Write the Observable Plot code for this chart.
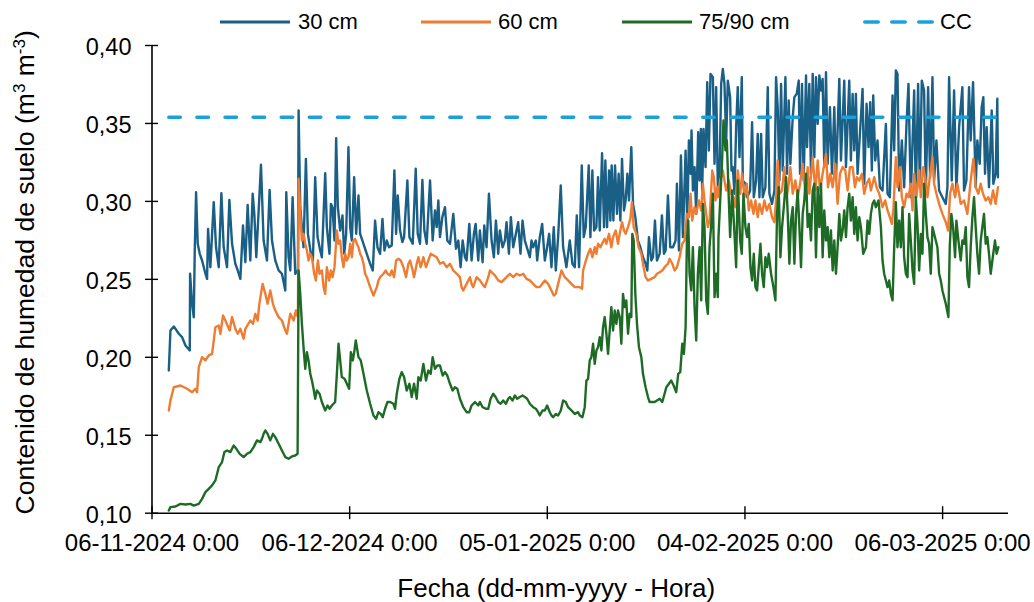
<!DOCTYPE html>
<html>
<head>
<meta charset="utf-8">
<script src="https://cdn.jsdelivr.net/npm/d3@7"></script>
<script src="https://cdn.jsdelivr.net/npm/@observablehq/plot@0.6"></script>
<style>
  html, body { margin: 0; padding: 0; background: #ffffff; }
  body { width: 1034px; height: 602px; overflow: hidden; font-family: "Liberation Sans", Arial, sans-serif; }
  #legend { position: relative; width: 1034px; height: 44px; }
  .item { position: absolute; top: 0; height: 44px; display: flex; align-items: center; font-size: 22px; color: #000; }
  .item svg { display: block; }
  #chart svg { overflow: visible; }
</style>
</head>
<body>
<div id="legend"></div>
<div id="chart"></div>
<script>
// ---------------- DATA ----------------
const inicio = "2024-11-06T00:00:00Z";          // day 0 of the series
const finEje = "2025-03-16T00:00:00Z";          // end of the date axis
const seriesNombres = ["30 cm", "60 cm", "75/90 cm", "CC"];
const seriesColores = ["#1a5f86", "#ee7d33", "#1e6b25", "#1aa1db"];
const fechasTicks = ["2024-11-06", "2024-12-06", "2025-01-05", "2025-02-04", "2025-03-06"];
const etiquetasX = ["06-11-2024 0:00", "06-12-2024 0:00", "05-01-2025 0:00", "04-02-2025 0:00", "06-03-2025 0:00"];
const valoresY = [0.10, 0.15, 0.20, 0.25, 0.30, 0.35, 0.40];
const etiquetasY = ["0,10", "0,15", "0,20", "0,25", "0,30", "0,35", "0,40"];
const capacidadCampo = 0.354;                    // CC (m3 m-3)
const tituloX = "Fecha (dd-mm-yyyy - Hora)";
const tituloY = "Contenido de humedad de suelo (m3 m-3)";

// [days since start, soil moisture m3 m-3]
const humedad30 = [
[2.55,0.1915],[2.80,0.2172],[3.31,0.2198],[4.07,0.2151],[4.57,0.2129],[5.08,0.2076],[5.73,0.2044],[5.78,0.2536],[6.09,0.2343],[6.34,0.2257],[6.49,0.2685],[6.69,0.3059],[6.94,0.2728],[7.25,0.2664],[7.60,0.2621],[8.11,0.2536],[8.36,0.2503],[8.51,0.2824],[8.86,0.2578],[9.37,0.2995],[9.72,0.2706],[10.13,0.2578],[10.53,0.3053],[10.88,0.2706],[11.39,0.2578],[11.74,0.3010],[12.15,0.2728],[12.65,0.2600],[13.01,0.2557],[13.41,0.2503],[13.81,0.2845],[14.17,0.2610],[14.52,0.2978],[14.92,0.2621],[15.28,0.3049],[15.53,0.2920],[15.83,0.2642],[16.54,0.3235],[16.94,0.2749],[17.45,0.2621],[17.85,0.3074],[18.21,0.2749],[18.71,0.2621],[19.22,0.2557],[19.72,0.2536],[20.23,0.2429],[20.38,0.3059],[20.73,0.2642],[20.99,0.2557],[21.34,0.3027],[21.74,0.2535],[22.15,0.2560],
[22.25,0.3583],[22.50,0.2963],[22.75,0.2835],[23.00,0.2706],[23.36,0.3273],[23.66,0.2792],[24.12,0.2664],[24.42,0.2621],[24.77,0.3155],[25.13,0.2771],[25.53,0.2685],[25.78,0.2642],[26.29,0.3181],[26.54,0.2835],[26.94,0.2664],[27.15,0.2984],[27.40,0.2963],[27.70,0.2749],[27.95,0.3406],[28.21,0.2963],[28.56,0.2813],[28.91,0.2910],[29.17,0.2664],[29.47,0.2792],[29.82,0.3348],[30.08,0.2835],[30.33,0.2749],[30.68,0.3155],[30.99,0.2792],[31.34,0.3038],[31.59,0.2792],[32.10,0.2728],[32.60,0.2664],[33.11,0.2600],[33.51,0.2557],[33.86,0.2877],[34.22,0.2706],[34.62,0.2664],[34.98,0.2888],[35.28,0.2685],[35.63,0.2749],[35.98,0.2706],[36.39,0.2717],[36.79,0.3198],[37.05,0.2792],[37.30,0.3038],[37.65,0.2813],[38.00,0.2739],[38.26,0.2771],[38.76,0.3134],[39.07,0.2771],[39.57,0.2728],[40.03,0.3209],[40.33,0.2792],[40.68,0.2728],[41.04,0.3138],[41.34,0.2813],[41.69,0.2728],[42.20,0.3134],
[42.60,0.2749],[42.95,0.2942],[43.21,0.2835],[43.46,0.3006],[43.71,0.2771],[44.07,0.2899],[44.47,0.2963],[44.82,0.2749],[45.23,0.2728],[45.73,0.2920],[46.14,0.2696],[46.49,0.2749],[46.84,0.2578],[47.15,0.2749],[47.50,0.2642],[47.75,0.2621],[48.16,0.2856],[48.51,0.2621],[48.86,0.2792],[49.12,0.2856],[49.52,0.2621],[49.77,0.2813],[50.18,0.2610],[50.43,0.2845],[50.78,0.2706],[51.14,0.3049],[51.54,0.2749],[51.89,0.2642],[52.20,0.2877],[52.55,0.2664],[52.80,0.2813],[53.21,0.2706],[53.56,0.2749],[53.81,0.2867],[54.17,0.2664],[54.47,0.2899],[54.82,0.2706],[55.23,0.2792],[55.58,0.2867],[55.93,0.2664],[56.24,0.2877],[56.59,0.2749],[57.35,0.2642],[57.60,0.2749],[57.85,0.2706],[58.26,0.2749],[58.46,0.2621],[58.86,0.2771],[59.22,0.2856],[59.62,0.2621],[59.97,0.2706],[60.28,0.2792],[60.63,0.2578],[60.98,0.2835],[61.29,0.2557],[61.64,0.2771],[62.04,0.3102],[62.40,0.2706],[62.90,0.2578],[63.41,0.2749],[63.81,0.2600],[64.17,0.2578],[64.47,0.2910],[64.82,0.2578],
[65.23,0.3230],[65.53,0.2771],[65.83,0.2835],[66.29,0.3230],[66.54,0.2771],[66.84,0.3198],[67.10,0.2813],[67.45,0.2835],[67.70,0.3155],[67.96,0.2813],[68.31,0.3309],[68.61,0.2835],[68.81,0.3262],[69.07,0.2835],[69.37,0.3198],[69.57,0.2877],[69.77,0.3230],[70.03,0.2877],[70.28,0.3230],[70.58,0.2920],[70.83,0.3177],[71.09,0.2877],[71.34,0.3273],[71.64,0.2942],[71.89,0.3006],[72.15,0.3177],[72.40,0.3006],[72.75,0.3348],[73.01,0.2984],[73.36,0.2899],[73.76,0.2749],[74.12,0.2706],[74.52,0.2642],[74.92,0.2600],[75.18,0.2557],[75.43,0.2771],[75.78,0.2621],[76.04,0.2642],[76.34,0.2877],[76.64,0.2621],[77.05,0.2664],[77.40,0.2910],[77.70,0.2664],[77.96,0.2685],[78.31,0.3038],[78.66,0.2706],[79.07,0.2706],[79.47,0.2749],[79.67,0.3113],[79.98,0.2685],[80.28,0.3294],[80.58,0.2771],[80.99,0.3326],[81.24,0.2856],[81.49,0.3391],[81.74,0.3177],[81.89,0.3455],[82.10,0.3070],[82.35,0.3220],[82.60,0.2920],[82.90,0.3444],[83.11,0.3134],[83.31,0.3465],[83.51,0.3070],[83.71,0.3465],[84.02,0.3220],[84.27,0.3765],[84.52,0.3326],[84.77,0.3818],[85.13,0.3797],[85.38,0.3241],[85.63,0.3733],[85.88,0.3100],
[86.14,0.3177],[86.39,0.3754],[86.64,0.3850],[86.89,0.3754],[87.15,0.3391],[87.40,0.3775],[87.75,0.3669],[87.95,0.3198],[88.16,0.3220],[88.41,0.3049],[88.66,0.3476],[88.91,0.3733],[89.17,0.3284],[89.52,0.3797],[89.67,0.3134],[90.07,0.3113],[90.33,0.3027],[90.58,0.3049],[90.78,0.3070],[91.08,0.3508],[91.34,0.3027],[91.69,0.3134],[91.94,0.3433],[92.20,0.3027],[92.45,0.3433],[92.70,0.3027],[93.10,0.3091],[93.46,0.3733],[93.71,0.3049],[94.11,0.2984],[94.47,0.3070],[94.72,0.3797],[94.97,0.3604],[95.23,0.3134],[95.48,0.3754],[95.73,0.3198],[96.14,0.3797],[96.39,0.3177],[96.64,0.3647],[96.89,0.3241],[97.25,0.3540],[97.50,0.3669],[97.85,0.3690],[98.16,0.3775],[98.36,0.3177],[98.66,0.3754],[98.91,0.3134],[99.27,0.3808],[99.42,0.3348],[99.77,0.3754],[100.02,0.3177],[100.28,0.3818],[100.53,0.3284],[100.78,0.3797],[101.04,0.3497],[101.29,0.3808],[101.54,0.3711],[101.79,0.3786],[102.04,0.3220],[102.30,0.3829],[102.55,0.3241],[102.90,0.3604],[103.21,0.3177],[103.56,0.3604],[103.81,0.3134],[104.32,0.3786],[104.57,0.3262],[105.07,0.3775],[105.33,0.3220],[105.83,0.3775],[106.08,0.3262],[106.34,0.3690],[106.59,0.3327],[106.84,0.3690],[107.09,0.3177],
[107.85,0.3722],[108.10,0.3113],[108.46,0.3626],[108.76,0.3348],[109.01,0.3636],[109.26,0.3198],[109.47,0.3679],[109.77,0.3262],[110.12,0.3391],[110.48,0.3091],[110.88,0.3070],[111.39,0.3497],[111.64,0.3049],[111.99,0.3027],[112.40,0.3679],[112.65,0.3327],[112.90,0.3840],[113.15,0.3818],[113.41,0.3070],[113.81,0.3391],[114.16,0.3091],[114.52,0.3497],[114.82,0.3754],[115.17,0.3027],[115.68,0.3711],[115.93,0.3027],[116.28,0.3754],[116.54,0.3091],[116.84,0.3775],[117.19,0.3711],[117.45,0.3049],[117.80,0.3733],[118.10,0.3155],[118.46,0.3797],[118.71,0.3134],[119.06,0.3391],[119.47,0.3070],[119.97,0.3027],[120.48,0.2984],[120.73,0.3091],[120.98,0.3797],[121.39,0.3134],[121.74,0.3711],[122.09,0.3070],[122.50,0.3476],[123.00,0.3733],[123.25,0.3070],[123.61,0.3134],[124.01,0.3733],[124.26,0.3391],[124.62,0.3765],[125.02,0.3091],[125.27,0.3391],[125.63,0.3241],[125.93,0.3604],[126.18,0.3669],[126.44,0.3177],[126.69,0.3476],[127.04,0.3091],[127.45,0.3583],[127.70,0.3113],[128.05,0.3177],[128.30,0.3658],[128.40,0.3155]
];

const humedad60 = [
[2.55,0.1659],[2.80,0.1723],[3.31,0.1808],[4.32,0.1819],[5.33,0.1798],[6.09,0.1776],[6.59,0.1798],[6.84,0.1776],[7.10,0.1937],[7.60,0.2001],[8.11,0.1980],[8.61,0.2012],[9.12,0.2022],[9.62,0.2193],[10.13,0.2204],[10.38,0.2151],[10.78,0.2268],[11.14,0.2236],[11.79,0.2172],[12.15,0.2258],[12.65,0.2183],[13.01,0.2151],[13.41,0.2183],[13.91,0.2119],[14.17,0.2183],[14.92,0.2236],[15.33,0.2215],[15.68,0.2279],[16.04,0.2236],[16.29,0.2343],[16.79,0.2471],[17.20,0.2407],[17.55,0.2343],[17.95,0.2429],[18.36,0.2343],[18.71,0.2300],[19.22,0.2258],[19.72,0.2236],[20.23,0.2172],[20.48,0.2151],[20.99,0.2279],[21.49,0.2236],[21.84,0.2300],[22.15,0.2258],
[22.25,0.3145],[22.50,0.2920],[22.75,0.2749],[23.00,0.2792],[23.26,0.2728],[23.51,0.2685],[23.76,0.2621],[24.02,0.2664],[24.27,0.2642],[24.62,0.2536],[24.87,0.2493],[25.18,0.2621],[25.43,0.2536],[25.78,0.2557],[26.04,0.2450],[26.29,0.2407],[26.54,0.2578],[26.89,0.2493],[27.15,0.2557],[27.40,0.2514],[27.70,0.2578],[28.06,0.2813],[28.31,0.2728],[28.56,0.2749],[28.81,0.2642],[29.07,0.2578],[29.32,0.2664],[29.57,0.2621],[29.82,0.2642],[30.08,0.2728],[30.33,0.2642],[30.58,0.2749],[30.83,0.2760],[31.09,0.2728],[31.34,0.2706],[31.59,0.2664],[31.84,0.2642],[32.10,0.2600],[32.35,0.2536],[32.60,0.2514],[33.11,0.2450],[33.61,0.2396],[34.12,0.2450],[34.37,0.2493],[34.62,0.2514],[35.13,0.2536],[35.48,0.2557],[35.73,0.2536],[36.14,0.2525],[36.39,0.2557],[36.74,0.2514],[37.05,0.2621],[37.40,0.2632],[37.75,0.2621],[38.16,0.2578],[38.56,0.2514],[38.91,0.2600],[39.17,0.2621],[39.57,0.2557],[39.77,0.2514],[40.18,0.2600],[40.43,0.2642],[40.78,0.2578],[41.19,0.2642],[41.59,0.2578],[41.94,0.2621],[42.30,0.2664],
[43.21,0.2642],[43.71,0.2600],[44.22,0.2610],[44.72,0.2578],[45.23,0.2600],[45.73,0.2557],[46.24,0.2536],[46.74,0.2514],[46.99,0.2450],[47.25,0.2429],[47.50,0.2450],[47.75,0.2471],[48.26,0.2514],[48.51,0.2471],[48.76,0.2450],[49.27,0.2514],[49.77,0.2493],[50.28,0.2461],[50.53,0.2450],[51.04,0.2514],[51.29,0.2557],[51.79,0.2536],[52.05,0.2525],[52.55,0.2493],[53.06,0.2482],[53.81,0.2514],[54.32,0.2536],[54.82,0.2514],[55.33,0.2536],[55.83,0.2525],[56.34,0.2536],[56.84,0.2503],[57.35,0.2493],[57.85,0.2471],[58.36,0.2450],[58.86,0.2450],[59.62,0.2493],[60.13,0.2471],[60.63,0.2429],[60.98,0.2396],[61.29,0.2407],[61.64,0.2471],[62.15,0.2557],[62.65,0.2514],[63.16,0.2493],[63.66,0.2471],[64.17,0.2450],
[64.93,0.2450],[65.28,0.2439],[65.43,0.2557],[65.78,0.2610],[66.19,0.2664],[66.54,0.2696],[66.84,0.2642],[67.20,0.2706],[67.45,0.2664],[67.70,0.2728],[68.06,0.2706],[68.31,0.2728],[68.71,0.2760],[68.97,0.2728],[69.37,0.2792],[69.72,0.2706],[69.98,0.2771],[70.38,0.2813],[70.73,0.2728],[70.99,0.2792],[71.34,0.2867],[71.64,0.2813],[71.89,0.2792],[72.25,0.2835],[72.60,0.2888],[72.85,0.2995],[73.11,0.2835],[73.51,0.2792],[73.86,0.2706],[74.27,0.2664],[74.62,0.2578],[74.92,0.2514],[75.28,0.2493],[75.78,0.2503],[76.29,0.2514],[76.64,0.2536],[77.05,0.2546],[77.45,0.2557],[77.80,0.2578],[78.31,0.2600],[78.56,0.2632],[78.97,0.2600],[79.32,0.2557],[79.67,0.2578],[80.08,0.2642],[80.48,0.2728],[80.83,0.2749],[81.19,0.2920],[81.49,0.2899],[81.74,0.3049],[81.99,0.2877],[82.35,0.2963],[82.60,0.2920],[83.01,0.3006],[83.36,0.2942],[83.61,0.3113],[83.86,0.3006],[84.12,0.2920],[84.37,0.2835],[84.62,0.2877],[85.03,0.3198],[85.28,0.3155],[85.53,0.3006],[85.78,0.3091],
[85.88,0.3027],[86.24,0.3134],[86.64,0.3198],[86.89,0.3134],[87.15,0.3070],[87.55,0.3134],[87.90,0.3049],[88.26,0.3027],[88.56,0.2963],[88.91,0.3198],[89.27,0.3049],[89.57,0.3177],[89.92,0.3027],[90.28,0.3113],[90.58,0.2942],[90.93,0.3006],[91.29,0.2920],[91.59,0.3006],[91.94,0.2899],[92.20,0.2984],[92.60,0.2920],[92.95,0.3006],[93.31,0.2942],[93.71,0.2984],[94.11,0.2899],[94.47,0.2867],[94.72,0.3006],[94.97,0.3262],[95.23,0.3049],[95.63,0.3070],[95.98,0.3220],[96.34,0.3027],[96.64,0.3113],[96.89,0.3220],[97.25,0.3049],[97.65,0.3134],[98.00,0.3027],[98.36,0.3113],[98.76,0.3241],[99.17,0.3049],[99.52,0.3220],[99.77,0.3049],[100.28,0.3284],[100.68,0.3070],[101.04,0.3262],[101.39,0.3070],[101.79,0.3177],[102.30,0.3305],[102.60,0.3091],[102.95,0.3177],[103.31,0.3091],[103.71,0.3241],[104.06,0.2984],[104.42,0.3177],[104.82,0.3220],[105.23,0.3198],[105.58,0.3070],[105.93,0.3220],[106.34,0.3220],[106.69,0.3091],[106.99,0.3155],
[107.35,0.3134],[107.75,0.3177],[108.10,0.3049],[108.46,0.3113],[108.86,0.3145],[109.11,0.3070],[109.62,0.3155],[109.97,0.3091],[110.38,0.3049],[110.88,0.2963],[111.28,0.3006],[111.64,0.2942],[111.99,0.2899],[112.30,0.2856],[112.55,0.2963],[112.90,0.3284],[113.15,0.3091],[113.51,0.3220],[113.81,0.3027],[114.16,0.2963],[114.52,0.3049],[114.82,0.3027],[115.17,0.3113],[115.43,0.2942],[115.68,0.3177],[116.03,0.3027],[116.44,0.3198],[116.69,0.3027],[117.04,0.3220],[117.35,0.3155],[117.70,0.3027],[118.05,0.3155],[118.46,0.3284],[118.71,0.3113],[119.06,0.3049],[119.47,0.2984],[119.97,0.2920],[120.48,0.2867],[120.83,0.2813],[121.13,0.3049],[121.49,0.3113],[121.89,0.3027],[122.24,0.3113],[122.75,0.2984],[123.25,0.3006],[123.76,0.2920],[124.26,0.3134],[124.67,0.3273],[125.02,0.3091],[125.43,0.3049],[125.78,0.3113],[126.13,0.3049],[126.54,0.3006],[126.94,0.3027],[127.30,0.2984],[127.65,0.3070],[128.05,0.2984],[128.40,0.3091]
];

const humedad7590 = [
[2.55,0.1017],[2.80,0.1039],[3.56,0.1043],[4.32,0.1060],[5.08,0.1056],[5.83,0.1060],[6.34,0.1049],[7.10,0.1060],[7.60,0.1092],[8.11,0.1135],[8.61,0.1156],[9.12,0.1178],[9.62,0.1210],[10.13,0.1295],[10.63,0.1328],[10.99,0.1392],[11.39,0.1402],[11.89,0.1392],[12.40,0.1434],[12.80,0.1413],[13.31,0.1381],[13.91,0.1360],[14.42,0.1381],[14.92,0.1392],[15.43,0.1424],[15.93,0.1467],[16.44,0.1456],[16.69,0.1477],[16.94,0.1509],[17.20,0.1531],[17.55,0.1509],[17.95,0.1467],[18.36,0.1509],[18.71,0.1488],[19.22,0.1445],[19.72,0.1402],[20.23,0.1360],[20.73,0.1349],[21.24,0.1364],[21.74,0.1370],[22.10,0.1381],
[22.25,0.2557],[22.50,0.2407],[22.75,0.2215],[23.00,0.2065],[23.26,0.1926],[23.51,0.2033],[23.76,0.1980],[24.02,0.1894],[24.27,0.1851],[24.52,0.1798],[24.77,0.1734],[25.03,0.1787],[25.43,0.1766],[25.78,0.1713],[26.29,0.1659],[26.64,0.1691],[26.94,0.1670],[27.30,0.1691],[27.80,0.1713],[28.06,0.1894],[28.31,0.2087],[28.56,0.1980],[28.81,0.1873],[29.22,0.1862],[29.57,0.1830],[29.92,0.1798],[30.18,0.2033],[30.48,0.1980],[30.73,0.2044],[30.93,0.2108],[31.34,0.2001],[31.69,0.1980],[32.10,0.1894],[32.60,0.1787],[33.11,0.1702],[33.61,0.1627],[34.01,0.1606],[34.37,0.1648],[34.72,0.1637],[35.02,0.1616],[35.38,0.1670],[35.73,0.1713],[36.14,0.1713],[36.64,0.1702],[36.89,0.1670],[37.15,0.1766],[37.55,0.1862],[37.90,0.1905],[38.26,0.1873],[38.66,0.1787],[39.07,0.1830],[39.42,0.1745],[39.77,0.1830],[40.18,0.1734],[40.43,0.1873],[40.78,0.1851],[41.19,0.1958],[41.59,0.1851],[41.94,0.1915],[42.30,0.1894],[42.60,0.2001],[42.95,0.1926],[43.31,0.1947],[43.71,0.1947],
[44.12,0.1883],[44.47,0.1905],[44.82,0.1883],[45.23,0.1830],[45.63,0.1787],[45.98,0.1808],[46.34,0.1798],[46.74,0.1734],[47.25,0.1680],[47.75,0.1648],[48.16,0.1648],[48.51,0.1691],[49.02,0.1713],[49.52,0.1691],[49.77,0.1713],[50.18,0.1680],[50.68,0.1670],[51.04,0.1670],[51.39,0.1734],[51.79,0.1766],[52.15,0.1745],[52.55,0.1713],[52.90,0.1702],[53.31,0.1723],[53.71,0.1702],[54.07,0.1734],[54.32,0.1745],[54.72,0.1723],[55.08,0.1755],[55.43,0.1734],[55.83,0.1745],[56.24,0.1755],[56.59,0.1745],[56.94,0.1734],[57.35,0.1702],[57.85,0.1680],[58.26,0.1670],[58.61,0.1648],[58.86,0.1627],[59.27,0.1659],[59.62,0.1659],[59.97,0.1691],[60.38,0.1648],[60.63,0.1627],[60.88,0.1616],[61.29,0.1637],[61.64,0.1627],[62.05,0.1659],[62.40,0.1723],[62.80,0.1713],[63.16,0.1680],[63.66,0.1659],[64.17,0.1637],[64.67,0.1648],
[64.93,0.1627],[65.33,0.1616],[65.68,0.1680],[65.93,0.1851],[66.19,0.1862],[66.44,0.1980],[66.69,0.2001],[66.95,0.2087],[67.20,0.1958],[67.45,0.2044],[67.70,0.2065],[67.96,0.2129],[68.21,0.2044],[68.46,0.2193],[68.71,0.2258],[68.97,0.2151],[69.22,0.2022],[69.47,0.2172],[69.72,0.2322],[69.98,0.2172],[70.23,0.2300],[70.48,0.2215],[70.73,0.2300],[70.99,0.2258],[71.24,0.2087],[71.49,0.2407],[71.74,0.2322],[71.99,0.2365],[72.25,0.2151],[72.50,0.2279],[72.75,0.2258],[72.90,0.2792],[73.11,0.2749],[73.36,0.2407],[73.61,0.2215],[73.91,0.2065],[74.27,0.2001],[74.52,0.1894],[74.92,0.1808],[75.28,0.1745],[75.53,0.1713],[75.94,0.1713],[76.29,0.1713],[76.64,0.1723],[77.05,0.1734],[77.45,0.1713],[77.80,0.1766],[78.06,0.1808],[78.46,0.1830],[78.81,0.1851],[79.17,0.1819],[79.57,0.1776],[79.87,0.1894],[80.18,0.1905],[80.48,0.2087],[80.73,0.2022],[80.99,0.2193],[81.19,0.2749],[81.39,0.2877],[81.59,0.2536],[81.84,0.2429],[82.10,0.2706],[82.35,0.2322],[82.60,0.2108],[82.85,0.2536],[83.11,0.2706],[83.36,0.2365],[83.61,0.2984],[83.86,0.2835],[84.12,0.2365],[84.37,0.2279],[84.62,0.2706],[84.87,0.2845],[85.13,0.3049],[85.38,0.2386],[85.63,0.2536],[85.88,0.2386],
[85.98,0.2771],[86.24,0.3006],[86.49,0.3220],[86.74,0.3519],[87.04,0.3327],[87.25,0.3391],[87.50,0.3070],[87.75,0.2771],[88.05,0.3070],[88.41,0.2792],[88.66,0.2578],[88.91,0.3134],[89.27,0.2749],[89.52,0.2664],[89.77,0.3049],[90.07,0.2835],[90.33,0.2771],[90.58,0.2856],[90.83,0.2578],[91.08,0.2493],[91.34,0.2664],[91.59,0.2450],[91.84,0.2429],[92.09,0.2578],[92.35,0.2728],[92.60,0.2536],[92.85,0.2450],[93.10,0.2642],[93.36,0.2578],[93.61,0.2664],[93.96,0.2536],[94.32,0.2450],[94.62,0.2365],[94.87,0.2920],[95.12,0.3091],[95.38,0.2642],[95.63,0.2835],[95.98,0.3006],[96.24,0.3155],[96.49,0.2920],[96.74,0.2600],[96.99,0.2877],[97.25,0.2963],[97.50,0.2600],[97.75,0.2920],[98.00,0.3070],[98.26,0.2835],[98.51,0.2578],[98.76,0.2920],[99.01,0.3006],[99.27,0.3177],[99.52,0.2835],[99.77,0.2920],[100.02,0.2749],[100.28,0.3070],[100.53,0.3113],[100.78,0.2642],[101.04,0.3091],[101.29,0.2835],[101.54,0.3113],[101.79,0.2642],[102.04,0.2942],[102.30,0.2749],[102.55,0.2835],[102.80,0.2642],[103.05,0.2813],[103.31,0.2557],[103.56,0.2749],[103.81,0.2536],[104.06,0.2706],[104.32,0.2920],[104.57,0.2749],[104.82,0.2813],[105.07,0.2942],[105.33,0.2771],[105.58,0.2963],[105.83,0.3049],[106.08,0.2877],[106.34,0.3027],[106.59,0.2792],[106.84,0.2963],[107.09,0.2749],
[107.35,0.2899],[107.60,0.2835],[107.95,0.2664],[108.36,0.2706],[108.61,0.2877],[108.86,0.2792],[109.11,0.2920],[109.37,0.2984],[109.62,0.3006],[109.87,0.2963],[110.27,0.3006],[110.63,0.2835],[110.88,0.2621],[111.13,0.2536],[111.39,0.2493],[111.64,0.2450],[111.89,0.2493],[112.14,0.2407],[112.40,0.2365],[112.65,0.2706],[112.90,0.2995],[113.15,0.2706],[113.41,0.2877],[113.66,0.2706],[113.91,0.2963],[114.16,0.2642],[114.42,0.2536],[114.67,0.2514],[114.92,0.2920],[115.17,0.2749],[115.43,0.2557],[115.68,0.2471],[115.93,0.3027],[116.18,0.2856],[116.44,0.2557],[116.69,0.2792],[116.94,0.2664],[117.19,0.3113],[117.45,0.2920],[117.70,0.2771],[117.95,0.2728],[118.20,0.2536],[118.46,0.2835],[118.71,0.2792],[118.96,0.2749],[119.21,0.2706],[119.47,0.2536],[119.72,0.2493],[119.97,0.2429],[120.48,0.2343],[120.88,0.2258],[121.08,0.2706],[121.33,0.2920],[121.59,0.2835],[121.89,0.2642],[122.09,0.2877],[122.40,0.2749],[122.75,0.2621],[123.00,0.2749],[123.25,0.2728],[123.51,0.2835],[123.76,0.2514],[124.01,0.2450],[124.26,0.2706],[124.52,0.2899],[124.77,0.3027],[125.02,0.2835],[125.27,0.2664],[125.53,0.2536],[125.78,0.2749],[126.03,0.2835],[126.28,0.2920],[126.54,0.2728],[126.79,0.2771],[127.04,0.2664],[127.30,0.2536],[127.55,0.2621],[127.95,0.2749],[128.20,0.2664],[128.46,0.2706]
];
const diasCC = [2.55, 128.4];

// ---------------- BUILD ----------------
const t0 = Date.parse(inicio);
const aFecha = d => new Date(t0 + d * 864e5);
const conv = arr => arr.map(([d, v]) => ({fecha: aFecha(d), valor: v}));
const d30 = conv(humedad30), d60 = conv(humedad60), d7590 = conv(humedad7590);
const dCC = diasCC.map(d => ({fecha: aFecha(d), valor: capacidadCampo}));
const ticksX = fechasTicks.map(s => new Date(s + "T00:00:00Z"));
const dom0 = new Date(inicio), dom1 = new Date(finEje);

// Legend (HTML, above the SVG)
const legendPos = [[220, 298], [421, 498], [622, 699], [863, 940]];
const leg = d3.select("#legend");
seriesNombres.forEach((n, i) => {
  const it = leg.append("div").attr("class", "item").style("left", legendPos[i][0] + "px");
  const s = it.append("svg").attr("width", 72).attr("height", 8);
  const ln = s.append("line").attr("x1", i === 3 ? 1.75 : 0).attr("x2", 70).attr("y1", 4).attr("y2", 4)
    .attr("stroke", seriesColores[i]).attr("stroke-width", i === 3 ? 3.5 : 3);
  if (i === 3) ln.attr("stroke-dasharray", "13.5,13.5").attr("stroke-linecap", "round");
  leg.append("div").attr("class", "item").style("left", legendPos[i][1] + "px").text(n);
});

const fmtX = d => etiquetasX[ticksX.findIndex(t => +t === +d)];
const fmtY = d => etiquetasY[valoresY.findIndex(t => Math.abs(t - d) < 1e-9)];

const chart = Plot.plot({
  width: 1034,
  height: 558,
  marginLeft: 151.5,
  marginRight: 26,
  marginTop: 1,
  marginBottom: 89.3,
  style: {fontFamily: '"Liberation Sans", Arial, sans-serif', background: "#ffffff", overflow: "visible", color: "#000"},
  x: {type: "utc", domain: [dom0, dom1]},
  y: {domain: [0.10, 0.40]},
  marks: [
    Plot.line(d30, {x: "fecha", y: "valor", stroke: seriesColores[0], strokeWidth: 2.4}),
    Plot.line(d60, {x: "fecha", y: "valor", stroke: seriesColores[1], strokeWidth: 2.4}),
    Plot.line(d7590, {x: "fecha", y: "valor", stroke: seriesColores[2], strokeWidth: 2.4}),
    Plot.line(dCC, {x: "fecha", y: "valor", stroke: seriesColores[3], strokeWidth: 3.5, strokeDasharray: "11.5,16.6", strokeLinecap: "round"}),
    Plot.ruleY([0.10], {stroke: "#000", strokeWidth: 1.6}),
    Plot.ruleX([dom0], {stroke: "#000", strokeWidth: 1.6}),
    Plot.ruleY(valoresY, {y: d => d, x1: dom0, x2: dom0, insetLeft: -6.5, insetRight: -6.5, stroke: "#000", strokeWidth: 1.4}),
    Plot.ruleX(ticksX, {x: d => d, y1: 0.10, y2: 0.10, insetTop: -6.5, insetBottom: -6.5, stroke: "#000", strokeWidth: 1.4}),
    Plot.axisY({ticks: valoresY, tickFormat: fmtY, tickSize: 0, tickPadding: 20.5, fontSize: 23.5, dy: 2, label: null}),
    Plot.axisX({ticks: ticksX, tickFormat: fmtX, tickSize: 0, tickPadding: 20.5, fontSize: 24, label: null}),
    Plot.text([tituloX], {frameAnchor: "bottom", textAnchor: "middle", lineAnchor: "middle", dy: 75, dx: -24, fontSize: 26, fill: "#000"}),
    Plot.text([tituloY], {frameAnchor: "left", textAnchor: "middle", lineAnchor: "middle", dx: -126.5, dy: -7, rotate: -90, fontSize: 26.5, fill: "#000"})
  ]
});
document.getElementById("chart").appendChild(chart);

// superscripts in the y title (m³ m⁻³)
d3.select(chart).selectAll("text").filter(function() { return this.textContent === tituloY; })
  .each(function() {
    const t = d3.select(this);
    t.text(null);
    t.append("tspan").text("Contenido de humedad de suelo (m");
    t.append("tspan").attr("dy", -9).attr("font-size", 17).text("3");
    t.append("tspan").attr("dy", 9).text(" m");
    t.append("tspan").attr("dy", -9).attr("font-size", 17).text("-3");
    t.append("tspan").attr("dy", 9).text(")");
  });
</script>
</body>
</html>
